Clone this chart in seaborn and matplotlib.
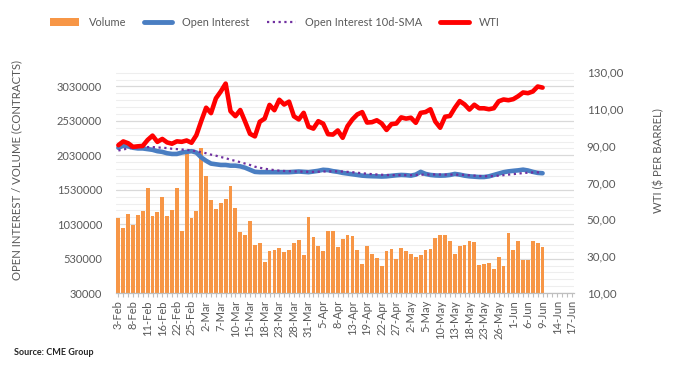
import numpy as np
import pandas as pd
import matplotlib
matplotlib.use("Agg")
import matplotlib.pyplot as plt
import seaborn as sns
from matplotlib.lines import Line2D
from matplotlib.patches import Patch
from matplotlib.ticker import MultipleLocator, FuncFormatter

sns.set_style("white")
plt.rcParams['font.family'] = ['Lato', 'DejaVu Sans']

# trading days 3-Feb .. 17-Jun (2022), US market holidays skipped
holidays = ["2022-02-21", "2022-04-15", "2022-05-30"]
dates = pd.bdate_range("2022-02-03", "2022-06-17", freq="C", holidays=holidays)
date_labels = [f"{d.day}-{d.strftime('%b')}" for d in dates]

# data (3-Feb .. 9-Jun)
volume = [1116000, 970000, 1174000, 1018000, 1159000, 1222000, 1551000, 1145000, 1207000, 1421000,
          1145000, 1236000, 1551000, 931000, 2050000, 1116000, 1222000, 2140000, 1730000, 1377000,
          1246000, 1338000, 1392000, 1580000, 1260000, 915000, 869000, 1074000, 723000, 752000,
          476000, 636000, 650000, 682000, 622000, 650000, 752000, 800000, 578000, 1130000,
          840000, 708000, 636000, 927000, 927000, 694000, 810000, 869000, 854000, 650000,
          447000, 708000, 592000, 534000, 418000, 636000, 665000, 520000, 680000, 636000,
          592000, 549000, 578000, 650000, 665000, 825000, 869000, 869000, 781000, 592000,
          708000, 723000, 781000, 767000, 432000, 447000, 462000, 374000, 549000, 418000,
          898000, 650000, 781000, 505000, 505000, 781000, 752000, 694000]

open_interest = [2140000, 2170000, 2160000, 2140000, 2130000, 2130000, 2120000, 2110000, 2090000, 2080000,
                 2060000, 2050000, 2050000, 2070000, 2080000, 2090000, 2070000, 2000000, 1950000, 1910000,
                 1900000, 1890000, 1890000, 1880000, 1880000, 1870000, 1850000, 1820000, 1790000, 1785000,
                 1785000, 1785000, 1785000, 1785000, 1785000, 1785000, 1790000, 1795000, 1790000, 1785000,
                 1795000, 1805000, 1820000, 1815000, 1800000, 1790000, 1775000, 1765000, 1755000, 1745000,
                 1735000, 1730000, 1727000, 1725000, 1722000, 1725000, 1733000, 1740000, 1745000, 1742000,
                 1735000, 1750000, 1790000, 1760000, 1745000, 1738000, 1735000, 1737000, 1745000, 1760000,
                 1750000, 1735000, 1725000, 1720000, 1715000, 1715000, 1725000, 1745000, 1765000, 1785000,
                 1797000, 1805000, 1812000, 1822000, 1810000, 1790000, 1775000, 1770000]

oi_sma = [2100000, 2115000, 2130000, 2140000, 2145000, 2150000, 2150000, 2150000, 2145000, 2140000,
          2135000, 2125000, 2120000, 2115000, 2110000, 2100000, 2090000, 2075000, 2060000, 2040000,
          2025000, 2005000, 1990000, 1965000, 1950000, 1930000, 1910000, 1890000, 1865000, 1850000,
          1835000, 1825000, 1815000, 1808000, 1803000, 1800000, 1797000, 1795000, 1793000, 1790000,
          1790000, 1792000, 1795000, 1797000, 1798000, 1797000, 1795000, 1790000, 1785000, 1777000,
          1770000, 1763000, 1757000, 1752000, 1748000, 1745000, 1743000, 1742000, 1742000, 1742000,
          1742000, 1745000, 1748000, 1750000, 1752000, 1752000, 1752000, 1750000, 1750000, 1750000,
          1748000, 1745000, 1740000, 1735000, 1730000, 1727000, 1727000, 1730000, 1735000, 1742000,
          1750000, 1757000, 1765000, 1772000, 1778000, 1782000, 1783000, 1780000]

wti = [90.27, 92.31, 91.32, 89.36, 89.66, 89.88, 93.10, 95.46, 92.07, 93.66,
       91.76, 91.07, 92.35, 92.10, 92.81, 91.59, 95.72, 103.41, 110.60, 107.67,
       115.68, 119.40, 123.70, 108.70, 106.02, 109.33, 103.01, 96.44, 95.04, 102.98,
       104.70, 112.12, 109.27, 114.93, 112.34, 113.90, 105.96, 104.24, 107.82, 100.28,
       99.27, 103.28, 101.96, 96.23, 96.03, 98.26, 94.29, 100.60, 104.25, 106.95,
       108.21, 102.56, 102.75, 103.79, 102.07, 98.54, 101.70, 102.02, 105.36, 104.69,
       105.17, 102.41, 107.81, 108.26, 109.77, 103.09, 99.76, 105.71, 106.13, 110.49,
       114.20, 112.40, 109.59, 112.21, 110.28, 110.29, 109.77, 110.33, 114.09, 115.07,
       114.67, 115.26, 116.87, 118.87, 118.50, 119.41, 122.11, 121.51]

x = np.arange(len(volume))
txt = '#595959'

fig = plt.figure(figsize=(6.78, 3.71), dpi=100)
ax = fig.add_axes([0.171, 0.210, 0.676, 0.596])

sns.barplot(x=x, y=volume, native_scale=True, width=0.78, color='#F79646',
            saturation=1, edgecolor='none', linewidth=0, ax=ax, zorder=2)
sns.lineplot(x=x, y=open_interest, color='#4A7EC2', lw=3.3, ax=ax, zorder=3)
sns.lineplot(x=x, y=oi_sma, color='#7030A0', lw=1.6, ls=(0, (1, 1.6)), ax=ax, zorder=4)

ax2 = ax.twinx()
sns.lineplot(x=x, y=wti, color='#FF0000', lw=3.3, ax=ax2)

# left axis
ax.set_xlim(-0.5, len(dates) - 0.5)
ax.set_ylim(30000, 3240000)
ax.set_yticks(np.arange(30000, 3030001, 500000))
ax.yaxis.set_major_formatter(FuncFormatter(lambda v, p: f"{int(round(v))}"))
ax.yaxis.set_minor_locator(MultipleLocator(100000, offset=30000))
ax.grid(which='major', axis='y', color='#d9d9d9', lw=0.9)
ax.grid(which='minor', axis='y', color='#eeeeee', lw=0.8)
ax.set_axisbelow(True)
ax.tick_params(axis='y', which='both', length=0, pad=10, labelsize=8, labelcolor=txt)
ax.set_ylabel("OPEN INTEREST / VOLUME (CONTRACTS)", color=txt, fontsize=8.2)
ax.yaxis.set_label_coords(-0.205, 0.555)

# x axis
ax.set_xticks(np.arange(0, len(dates), 3))
ax.set_xticklabels(date_labels[::3], rotation=90)
ax.set_xticks(np.arange(len(dates)), minor=True)
ax.tick_params(axis='x', which='both', length=3, color='#bfbfbf', width=0.8,
               labelsize=8, labelcolor=txt, pad=2, bottom=True)
ax.set_xlabel("")

# right axis
ax2.set_ylim(10, 130)
ax2.set_yticks(np.arange(10, 131, 20))
ax2.yaxis.set_major_formatter(FuncFormatter(lambda v, p: f"{v:.2f}".replace('.', ',')))
ax2.tick_params(axis='y', length=0, pad=9, labelsize=8.3, labelcolor=txt)
ax2.set_ylabel("WTI ($ PER BARREL)", color=txt, fontsize=8.2)
ax2.yaxis.set_label_coords(1.172, 0.6)
ax2.grid(False)

for a in (ax, ax2):
    for s in ('top', 'left', 'right'):
        a.spines[s].set_visible(False)
    a.spines['bottom'].set_color('#bfbfbf')

handles = [Patch(facecolor='#F79646', edgecolor='none'),
           Line2D([], [], color='#4A7EC2', lw=3.5),
           Line2D([], [], color='#7030A0', lw=1.6, ls=(0, (1, 1.6))),
           Line2D([], [], color='#FF0000', lw=3.5)]
labels = ["Volume", "Open Interest", "Open Interest 10d-SMA", "WTI"]
fig.legend(handles, labels, loc='center left', bbox_to_anchor=(0.066, 0.94), ncol=4,
           frameon=False, fontsize=7.9, labelcolor=txt, handlelength=2.6,
           handletextpad=0.9, columnspacing=1.6, handleheight=0.7, borderpad=0)

fig.text(0.021, 0.051, "Source: CME Group", fontsize=6.5, fontweight='bold', color='#262626',
         va='center')

fig.savefig("out.png", dpi=100)
